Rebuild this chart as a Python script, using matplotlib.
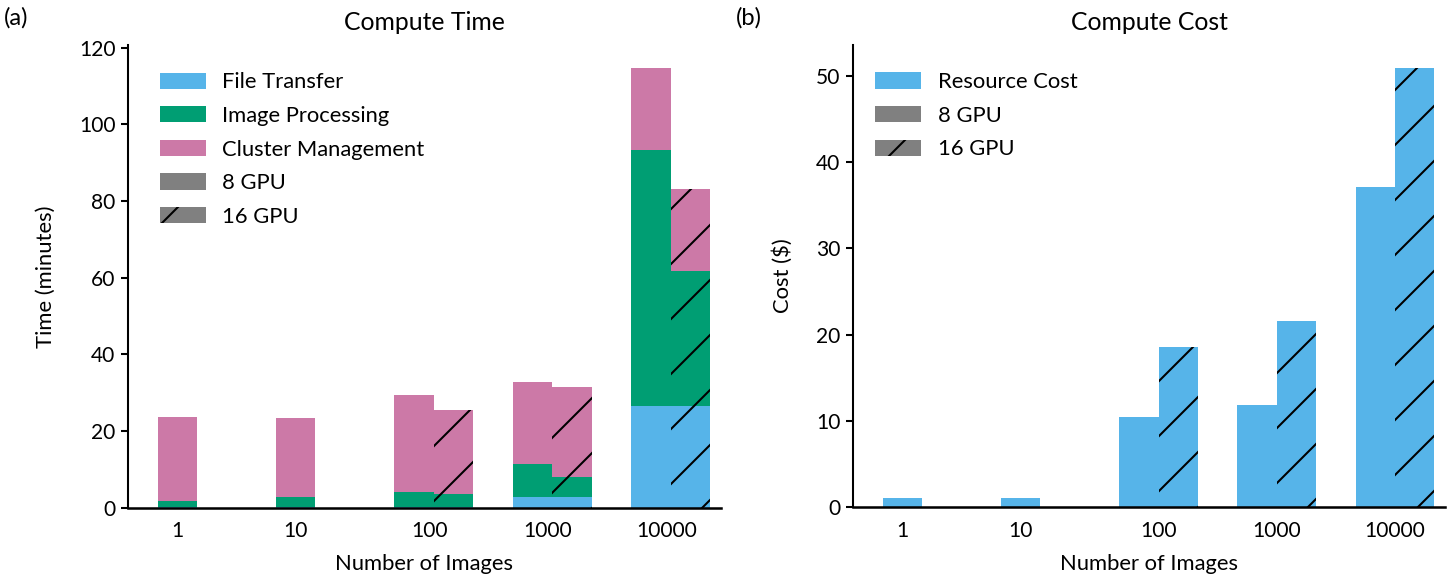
import matplotlib
matplotlib.use('Agg')
import matplotlib.pyplot as plt
import matplotlib.patches as mpatches
import numpy as np

# 이미지 개수 (x축 범주)
categories = ['1', '10', '100', '1000', '10000']
# 16 GPU 결과가 있는 범주
categories_16 = ['100', '1000', '10000']

# (a) 계산 시간 (분) - 8 GPU
file_8 = [0.1, 0.1, 0.1, 2.7, 26.6]
image_8 = [1.7, 2.6, 4.1, 8.7, 66.6]
cluster_8 = [21.9, 20.7, 25.3, 21.3, 21.4]

# (a) 계산 시간 (분) - 16 GPU
file_16 = [0.1, 2.7, 26.6]
image_16 = [3.4, 5.4, 35.1]
cluster_16 = [22.0, 23.4, 21.5]

# (b) 계산 비용 ($)
cost_8 = [1.08, 1.08, 10.44, 11.88, 37.07]
cost_16 = [18.53, 21.55, 50.97]

c_file = '#56B4E9'
c_image = '#009E73'
c_cluster = '#CC79A7'

DPI = 330
plt.rcParams['font.family'] = ['Lato', 'DejaVu Sans']
plt.rcParams['font.size'] = 4.8
plt.rcParams['hatch.linewidth'] = 0.45
plt.rcParams['hatch.color'] = 'black'

fig = plt.figure(figsize=(1454 / DPI, 581 / DPI), dpi=DPI)
ax1 = fig.add_axes([0.0878, 0.1262, 0.4078, 0.7964])
ax2 = fig.add_axes([0.5865, 0.1270, 0.4074, 0.7957])

w = 1 / 3
HATCH = '//'
x8 = np.arange(len(categories))
x16 = np.array([categories.index(c) for c in categories_16]) + w

# 누적 막대 (8 GPU)
f8 = np.array(file_8)
i8 = np.array(image_8)
k8 = np.array(cluster_8)
ax1.bar(x8, f8, w, color=c_file, linewidth=0)
ax1.bar(x8, i8, w, bottom=f8, color=c_image, linewidth=0)
ax1.bar(x8, k8, w, bottom=f8 + i8, color=c_cluster, linewidth=0)

# 누적 막대 (16 GPU, 빗금)
f16 = np.array(file_16)
i16 = np.array(image_16)
k16 = np.array(cluster_16)
ax1.bar(x16, f16, w, color=c_file, linewidth=0, hatch=HATCH)
ax1.bar(x16, i16, w, bottom=f16, color=c_image, linewidth=0, hatch=HATCH)
ax1.bar(x16, k16, w, bottom=f16 + i16, color=c_cluster, linewidth=0, hatch=HATCH)

# 비용 막대
ax2.bar(x8, cost_8, w, color=c_file, linewidth=0)
ax2.bar(x16, cost_16, w, color=c_file, linewidth=0, hatch=HATCH)

# 눈금 위치: 막대가 2개인 범주는 가운데 쪽으로
tick_pos = [x if c not in categories_16 else x + 0.13 for x, c in zip(x8, categories)]
tick_pos2 = [x if c not in categories_16 else x + w / 2 for x, c in zip(x8, categories)]

for ax, ticks in ((ax1, tick_pos), (ax2, tick_pos2)):
    ax.spines['top'].set_visible(False)
    ax.spines['right'].set_visible(False)
    ax.spines['left'].set_linewidth(0.45)
    ax.spines['bottom'].set_linewidth(0.55)
    ax.set_xlim(-0.42, 4.59)
    ax.set_xticks(ticks)
    ax.set_xticklabels(categories)
    ax.tick_params(axis='x', length=0, pad=3.0, labelsize=4.6)
    ax.tick_params(axis='y', length=1.5, width=0.45, pad=1.2, labelsize=4.6)
    ax.set_xlabel('Number of Images', fontsize=4.8, labelpad=2.8)

ax1.set_ylim(0, 120.7)
ax1.set_yticks(range(0, 121, 20))
ax1.set_ylabel('Time (minutes)', fontsize=4.8, labelpad=5)
ax1.set_title('Compute Time', fontsize=5.4, pad=3.2)

ax2.set_ylim(0, 53.6)
ax2.set_yticks(range(0, 51, 10))
ax2.set_ylabel('Cost (\\$)', fontsize=4.8, labelpad=5)
ax2.set_title('Compute Cost', fontsize=5.4, pad=3.2)

# 범례
gray = '#808080'
h_8 = mpatches.Patch(facecolor=gray, linewidth=0, label='8 GPU')
h_16 = mpatches.Patch(facecolor=gray, linewidth=0, hatch=HATCH, label='16 GPU')

leg_kw = dict(loc='upper left', frameon=False, fontsize=4.8, handlelength=2.1,
              handleheight=0.75, handletextpad=0.75, labelspacing=0.62,
              borderaxespad=0, borderpad=0)
ax1.legend(handles=[mpatches.Patch(facecolor=c_file, linewidth=0, label='File Transfer'),
                    mpatches.Patch(facecolor=c_image, linewidth=0, label='Image Processing'),
                    mpatches.Patch(facecolor=c_cluster, linewidth=0, label='Cluster Management'),
                    h_8, h_16],
           bbox_to_anchor=(0.054, 0.941), **leg_kw)
ax2.legend(handles=[mpatches.Patch(facecolor=c_file, linewidth=0, label='Resource Cost'), h_8, h_16],
           bbox_to_anchor=(0.038, 0.941), **leg_kw)

fig.text(0.003, 0.97, '(a)', fontsize=5.2, va='center', ha='left')
fig.text(0.506, 0.97, '(b)', fontsize=5.2, va='center', ha='left')

fig.savefig('out.png', dpi=DPI)
